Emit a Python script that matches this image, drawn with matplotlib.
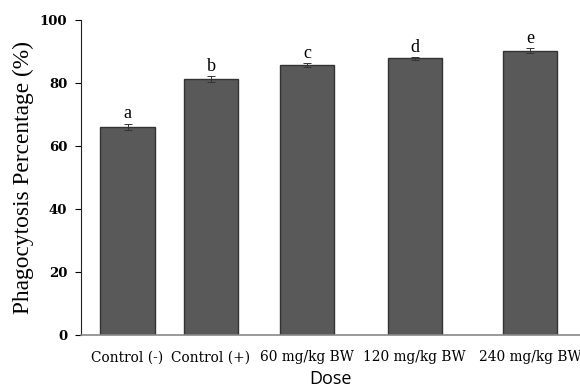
import matplotlib
matplotlib.use('Agg')
import matplotlib.pyplot as plt

# data
doses = ['Control (-)', 'Control (+)', '60 mg/kg BW', '120 mg/kg BW', '240 mg/kg BW']
phago_pct = [66.1, 81.2, 85.7, 87.8, 90.2]
phago_err = [1.0, 1.0, 0.6, 0.5, 0.8]
sig_letters = ['a', 'b', 'c', 'd', 'e']
y_ticks = [0, 20, 40, 60, 80, 100]

# uneven category spacing, as in the original figure
xpos = [0, 1, 2.15, 3.44, 4.82]

fig = plt.figure(figsize=(5.8, 3.9), dpi=100)
ax = fig.add_axes([0.1397, 0.141, 0.8603, 0.8077])

ax.bar(xpos, phago_pct, width=0.65, color='#595959', edgecolor='#333333',
       linewidth=1.0, zorder=2)
ax.errorbar(xpos, phago_pct, yerr=phago_err, fmt='none', ecolor='#333333',
            elinewidth=0.7, capsize=3, capthick=0.7, zorder=3)

for x, v, e, s in zip(xpos, phago_pct, phago_err, sig_letters):
    ax.text(x, v + e + 0.4, s, ha='center', va='bottom',
            fontsize=13, family='Liberation Serif')

ax.set_xlim(-0.557, 5.42)
ax.set_ylim(0, 100)
ax.set_yticks(y_ticks)
ax.set_yticklabels([str(t) for t in y_ticks], fontsize=9.5,
                   family='DejaVu Serif', fontweight='bold')
ax.set_xticks(xpos)
ax.set_xticklabels(doses, fontsize=9.9, family='DejaVu Serif')
ax.tick_params(axis='x', length=0, pad=11)
ax.tick_params(axis='y', length=4, width=0.8, pad=6)

ax.spines['top'].set_visible(False)
ax.spines['right'].set_visible(False)
ax.spines['left'].set_color('#222222')
ax.spines['bottom'].set_color('#888888')
ax.spines['bottom'].set_linewidth(1.2)

ax.set_ylabel('Phagocytosis Percentage (%)', fontsize=16.8,
              family='Liberation Serif', labelpad=4)
ax.set_xlabel('Dose', fontsize=13, family='Open Sans', labelpad=4)

fig.savefig('out.png', dpi=100)
